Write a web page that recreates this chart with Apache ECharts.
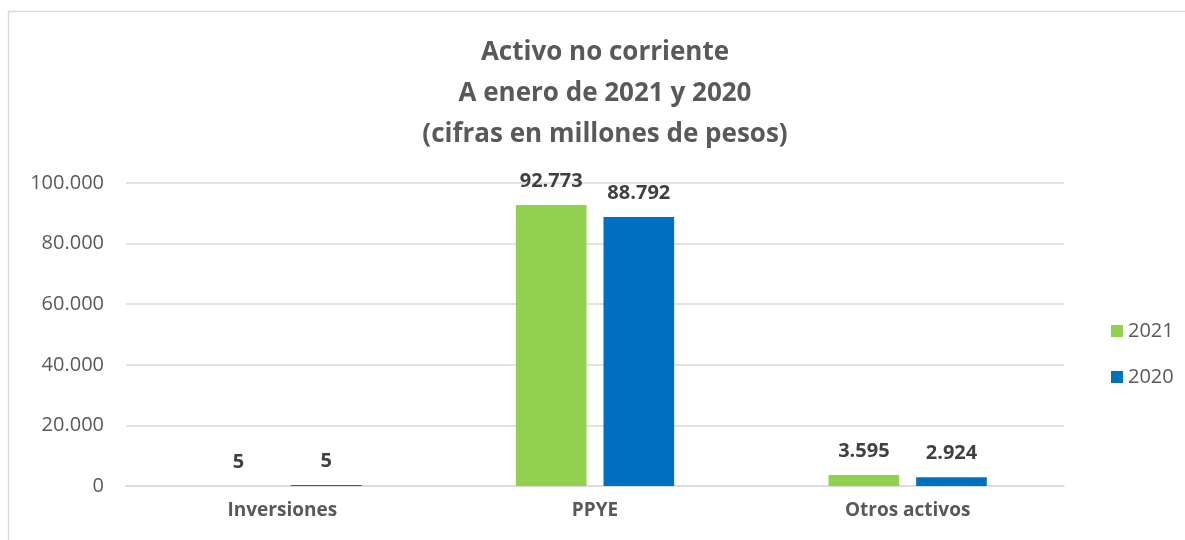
<!DOCTYPE html>
<html>
<head>
<meta charset="utf-8">
<script src="https://cdn.jsdelivr.net/npm/echarts@6/dist/echarts.min.js"></script>
<style>
  html, body { margin: 0; padding: 0; background: #fff; }
  #main { width: 1185px; height: 540px; }
</style>
</head>
<body>
<div id="main"></div>
<script>
  // datos del gráfico
  var categorias = ['Inversiones', 'PPYE', 'Otros activos'];
  var serie2021 = [5, 92773, 3595];
  var serie2020 = [5, 88792, 2924];
  var ticksY = [0, 20000, 40000, 60000, 80000, 100000];

  var fmt = function (v) {
    return String(v).replace(/\B(?=(\d{3})+(?!\d))/g, '.');
  };

  var myChart = echarts.init(document.getElementById('main'));
  var fuente = '"Open Sans", "Liberation Sans", sans-serif';

  var etiqueta = {
    show: true,
    position: 'top',
    distance: 14,
    fontFamily: fuente,
    fontWeight: 'bold',
    fontSize: 20,
    color: '#404040',
    formatter: function (p) { return fmt(p.value); }
  };

  var option = {
    backgroundColor: '#fff',
    animation: false,
    graphic: [{
      type: 'rect',
      shape: { x: 8.5, y: 11.5, width: 1200, height: 560 },
      style: { fill: 'none', stroke: '#d9d9d9', lineWidth: 1.5 },
      silent: true
    }],
    title: {
      text: 'Activo no corriente\nA enero de 2021 y 2020\n(cifras en millones de pesos)',
      left: 600,
      textAlign: 'center',
      top: 27,
      textStyle: {
        fontFamily: fuente,
        fontWeight: 'bold',
        fontSize: 26,
        lineHeight: 41,
        color: '#595959'
      }
    },
    legend: {
      orient: 'vertical',
      left: 1106,
      top: 316,
      itemWidth: 12,
      itemHeight: 12,
      itemGap: 26,
      icon: 'rect',
      textStyle: { fontFamily: fuente, fontSize: 20, color: '#595959' },
      data: ['2021', '2020']
    },
    grid: {
      left: 126,
      right: 121,
      top: 183,
      bottom: 54
    },
    xAxis: {
      type: 'category',
      data: categorias,
      axisTick: { show: false },
      axisLine: { lineStyle: { color: '#d9d9d9', width: 1.5 } },
      axisLabel: {
        margin: 15,
        fontFamily: fuente,
        fontWeight: 'bold',
        fontSize: 19,
        color: '#595959'
      }
    },
    yAxis: {
      type: 'value',
      min: ticksY[0],
      max: ticksY[ticksY.length - 1],
      interval: ticksY[1] - ticksY[0],
      axisLine: { show: false },
      axisTick: { show: false },
      splitLine: { lineStyle: { color: '#d9d9d9', width: 1.5 } },
      axisLabel: {
        margin: 22,
        fontFamily: fuente,
        fontSize: 20,
        color: '#595959',
        formatter: fmt
      }
    },
    series: [
      {
        name: '2021',
        type: 'bar',
        data: serie2021,
        barWidth: '22.6%',
        barGap: '24%',
        itemStyle: { color: '#92D050' },
        label: etiqueta
      },
      {
        name: '2020',
        type: 'bar',
        data: serie2020,
        barWidth: '22.6%',
        barMinHeight: 1,
        itemStyle: { color: '#0070C0' },
        label: etiqueta
      }
    ]
  };

  myChart.setOption(option);
</script>
</body>
</html>
